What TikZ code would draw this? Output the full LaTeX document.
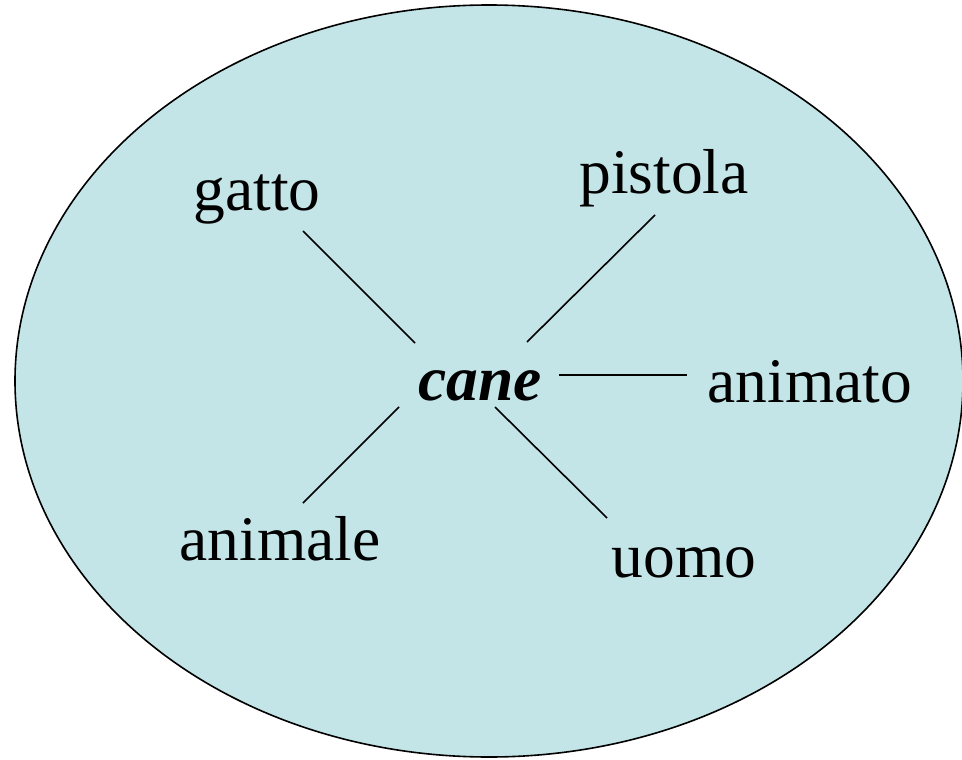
\documentclass[tikz,border=0pt]{standalone}
\usepackage{fontspec}
\setmainfont{Liberation Serif}
\definecolor{bubble}{HTML}{C4E5E8}
\begin{document}
\begin{tikzpicture}[x=1pt,y=-1pt,
  word/.style={anchor=base,inner sep=0pt,font=\fontsize{63.5}{70}\selectfont},
  link/.style={line width=1.6pt,black}]
\useasboundingbox (0,0) rectangle (962,760);
\draw[fill=bubble,line width=1.6pt] (489,381) ellipse [x radius=474, y radius=376];
\node[word] (gatto) at (257,210) {gatto};
\node[word] (pistola) at (664,193) {pistola};
\node[word,font=\fontsize{63.5}{70}\selectfont\bfseries\itshape] (cane) at (480,400) {cane};
\node[word] (animato) at (810,402) {animato};
\node[word] (animale) at (280,560) {animale};
\node[word] (uomo) at (684,577) {uomo};
\coordinate (g1) at (303,231); \coordinate (g2) at (415,343);
\coordinate (p1) at (655,215); \coordinate (p2) at (527,342);
\coordinate (a1) at (559,375); \coordinate (a2) at (687,375);
\coordinate (l1) at (399,407); \coordinate (l2) at (303,503);
\coordinate (u1) at (495,407); \coordinate (u2) at (607,518);
\draw[link] (g1) -- (g2);
\draw[link] (p1) -- (p2);
\draw[link] (a1) -- (a2);
\draw[link] (l1) -- (l2);
\draw[link] (u1) -- (u2);
\end{tikzpicture}
\end{document}
